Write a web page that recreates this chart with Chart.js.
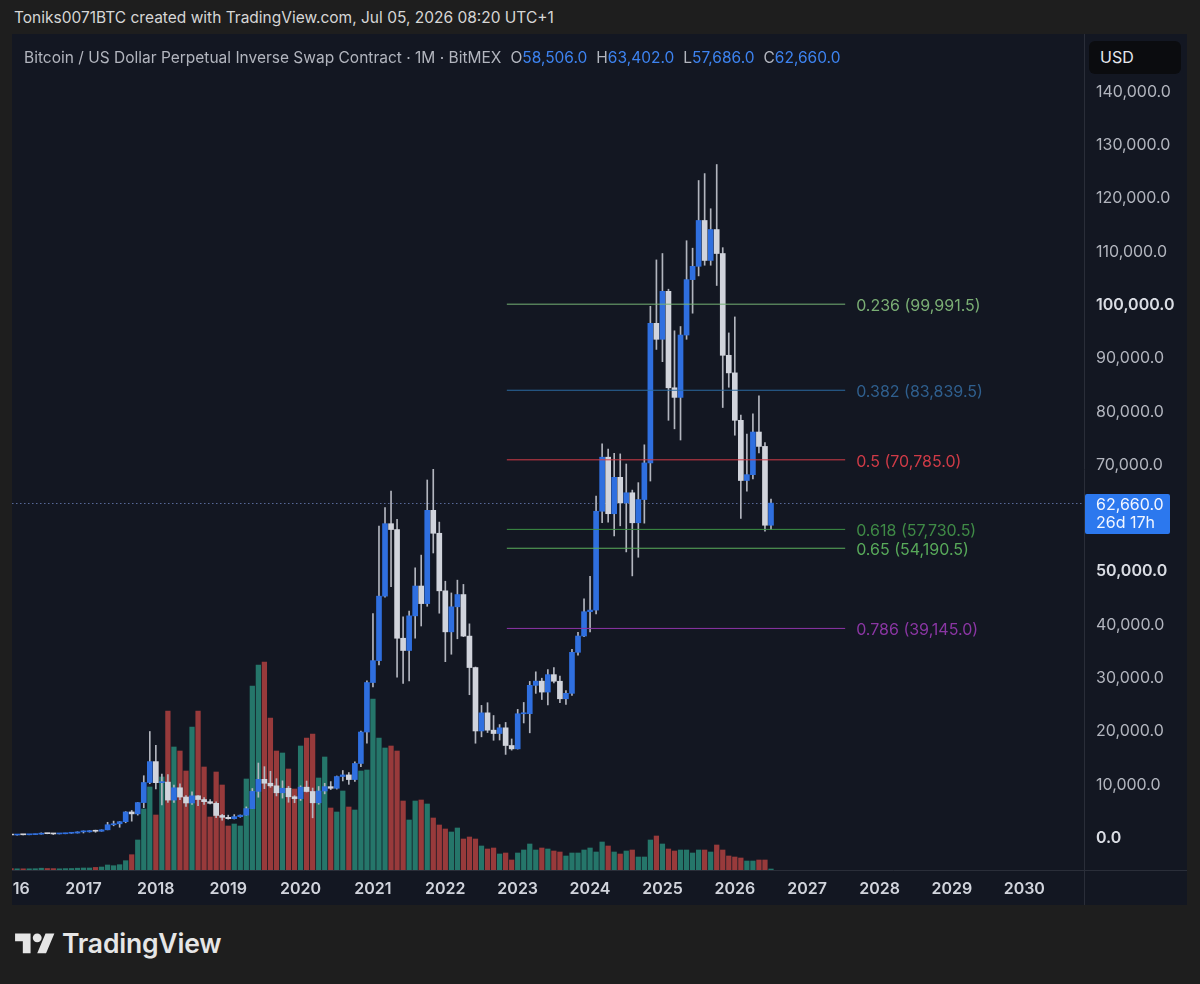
<!DOCTYPE html>
<html>
<head>
<meta charset="utf-8">
<script src="https://cdn.jsdelivr.net/npm/chart.js@4.4.1/dist/chart.umd.min.js"></script>
<style>
  body { margin: 0; background: #1e1e1e; width: 1200px; height: 984px; overflow: hidden; font-family: Inter, "Noto Sans", sans-serif; }
  #hdr { position: absolute; left: 14px; top: 8px; font-size: 15.5px; line-height: 20px; color: #d6d6d6; white-space: nowrap; }
  #panel { position: absolute; left: 12px; top: 34px; width: 1175px; height: 871px; background: #131722; }
  #c { position: absolute; left: 0; top: 0; }
  #legend { position: absolute; left: 12px; top: 14px; font-size: 15.5px; line-height: 20px; color: #b2b5be; white-space: nowrap; }
  #legend .k { margin-left: 9px; }
  #legend .v { color: #3d83f0; }
  #usd { position: absolute; left: 1077px; top: 7px; width: 92px; height: 33px; background: #0b0c0f; border-radius: 6px; color: #e6e8ee; font-size: 16px; line-height: 33px; box-sizing: border-box; padding-left: 11px; }
  #logo { position: absolute; left: 15px; top: 929px; height: 31px; }
  #logo svg { position: absolute; left: 0; top: 0; }
  #logo span { position: absolute; left: 47px; top: -1px; font-size: 26.5px; font-weight: 600; line-height: 31px; color: #e6e6e6; white-space: nowrap; letter-spacing: -0.2px; }
</style>
</head>
<body>
<div id="hdr">Toniks0071BTC created with TradingView.com, Jul 05, 2026 08:20 UTC+1</div>
<div id="panel">
  <canvas id="c" width="1175" height="871"></canvas>
  <div id="legend"></div>
  <div id="usd">USD</div>
</div>
<div id="logo">
  <svg width="40" height="31" viewBox="0 0 36 28"><path fill="#e6e6e6" d="M14 22H7V11H0V4h14v18zM28 22h-8l7.5-18h8L28 22z"/><circle fill="#e6e6e6" cx="20" cy="8" r="4"/></svg>
  <span>TradingView</span>
</div>
<script>
// Monthly candles, index 0 = Jan 2016, last = Jul 2026
const OPEN = [
  430, 369, 437, 416, 448, 531, 673, 624, 575, 609, 700, 742,
  963, 970, 1190, 1080, 1350, 2300, 2480, 2875, 4700, 4340, 6460, 10230,
  14150, 10200, 10300, 6930, 9240, 7500, 6390, 7730, 7030, 6630, 6320, 4040,
  3690, 3440, 3820, 4100, 5330, 8560, 10820, 10090, 9600, 8300, 9150, 7550,
  7200, 9350, 8540, 6420, 8630, 9450, 9140, 11350, 11650, 10780, 13800, 19700,
  28990, 33100, 45200, 58800, 57700, 37300, 35000, 41500, 47100, 43800, 61300, 57000,
  46200, 38500, 43200, 45500, 37700, 31800, 19900, 23300, 20050, 19420, 20490, 17170,
  16540, 23130, 23140, 28460, 29250, 27200, 30470, 29230, 25940, 26960, 34660, 37720,
  42280, 42580, 61130, 71280, 60670, 67500, 62700, 64600, 58970, 63330, 70200, 96400,
  93400, 102400, 84300, 82500, 94200, 104600, 107100, 115700, 108200, 114000, 109500, 90400,
  87100, 78200, 66900, 68000, 76000, 73300, 58506
];
const HIGH = [
  462, 448, 440, 468, 548, 779, 704, 626, 612, 720, 752, 980,
  1150, 1210, 1290, 1350, 2760, 2980, 2920, 4770, 4980, 6470, 11500, 19800,
  17200, 11800, 11700, 9750, 9990, 7770, 8500, 7750, 7400, 7000, 6600, 4250,
  4100, 4200, 4140, 5650, 9100, 13880, 13200, 12330, 10950, 10540, 9520, 7750,
  9600, 10500, 9190, 9480, 10070, 10400, 11450, 12480, 12100, 14100, 19860, 29300,
  41950, 58350, 61800, 64900, 59600, 41300, 42400, 50500, 52900, 67000, 69000, 59100,
  48000, 45800, 48200, 47400, 40000, 31900, 24700, 25200, 22800, 21100, 21500, 18400,
  23950, 25250, 29200, 31000, 29800, 31400, 31800, 30200, 27500, 35200, 38400, 44700,
  48900, 64000, 73800, 72800, 72000, 71900, 70000, 65100, 66500, 73600, 99600, 108300,
  109500, 102800, 95000, 95800, 111900, 110500, 123200, 124500, 117900, 126200, 110600, 94600,
  97600, 79200, 75600, 79400, 82800, 74000, 63402
];
const LOW = [
  354, 365, 393, 412, 438, 527, 604, 470, 570, 603, 685, 739,
  750, 915, 890, 1070, 1340, 2100, 1830, 2670, 2970, 4110, 5500, 10000,
  9000, 6000, 6500, 6500, 7000, 5750, 6100, 5880, 6100, 6200, 3650, 3150,
  3350, 3380, 3700, 4080, 5320, 7460, 9070, 9320, 7710, 7300, 6520, 6430,
  6860, 8450, 3600, 6150, 8100, 8900, 8990, 10520, 9880, 10420, 13200, 17600,
  28150, 32300, 45000, 47000, 30000, 28800, 29300, 37300, 39600, 43300, 53300, 42000,
  32900, 34300, 37200, 37600, 26700, 17600, 18800, 19600, 18150, 18200, 15500, 16300,
  16500, 21400, 19550, 26950, 25800, 24800, 28900, 25200, 24900, 26550, 34100, 37600,
  38500, 41880, 59000, 59100, 56500, 58400, 53500, 49000, 52500, 58900, 66800, 91500,
  89200, 78200, 76600, 74500, 93400, 98300, 105300, 107300, 107300, 103500, 80600, 84400,
  75400, 59800, 64900, 67200, 72100, 57400, 57686
];
const CLOSE = [
  369, 437, 416, 448, 531, 673, 624, 575, 609, 700, 742, 963,
  970, 1190, 1080, 1350, 2300, 2480, 2875, 4700, 4340, 6460, 10230, 14150,
  10200, 10300, 6930, 9240, 7500, 6390, 7730, 7030, 6630, 6320, 4040, 3690,
  3440, 3820, 4100, 5330, 8560, 10820, 10090, 9600, 8300, 9150, 7550, 7200,
  9350, 8540, 6420, 8630, 9450, 9140, 11350, 11650, 10780, 13800, 19700, 28990,
  33100, 45200, 58800, 57700, 37300, 35000, 41500, 47100, 43800, 61300, 57000, 46200,
  38500, 43200, 45500, 37700, 31800, 19900, 23300, 20050, 19420, 20490, 17170, 16540,
  23130, 23140, 28460, 29250, 27200, 30470, 29230, 25940, 26960, 34660, 37720, 42280,
  42580, 61130, 71280, 60670, 67500, 62700, 64600, 58970, 63330, 70200, 96400, 93400,
  102400, 84300, 82500, 94200, 104600, 107100, 115700, 108200, 114000, 109500, 90400, 87100,
  78200, 66900, 68000, 76000, 73300, 58506, 62660
];
// volume, relative units
const VOLUME = [
  1.5, 1.2, 1.2, 1.2, 1.3, 1.8, 1.5, 1.4, 1.2, 1.4, 1.5, 1.8,
  2.0, 2.0, 2.6, 3.0, 5.0, 4.3, 5.3, 9.3, 15.3, 30, 61, 83,
  55, 93, 159, 123, 119, 99, 143, 159, 103, 53, 98, 85,
  44, 46, 44, 91, 184, 205, 208, 152, 119, 117, 101, 81,
  124, 132, 136, 92, 113, 62, 58, 79, 63, 60, 99, 100,
  171, 132, 122, 124, 119, 69, 50, 69, 70, 66, 52, 45,
  41, 38, 42, 31, 33, 31, 24, 21, 22, 16, 17, 10,
  17, 20, 26, 20, 22, 21, 19, 18, 14, 17, 17, 20,
  22, 18, 28, 24, 18, 16, 19, 20, 13, 13, 30, 34,
  26, 21, 19, 20, 20, 17, 20, 20, 18, 25, 20, 14,
  13, 12, 9, 9, 10, 10, 1
];

const YEAR_LABELS = ["2016", "2017", "2018", "2019", "2020", "2021", "2022", "2023",
  "2024", "2025", "2026", "2027", "2028", "2029", "2030"];
const YEAR_MONTH_INDEX = [0, 12, 24, 36, 48, 60, 72, 84, 96, 108, 120, 132, 144, 156, 168];
const PRICE_TICKS = [0, 10000, 20000, 30000, 40000, 50000, 60000, 70000,
  80000, 90000, 100000, 110000, 120000, 130000, 140000];
const BOLD_PRICES = [0, 50000, 100000];

// Fibonacci retracement drawing
const FIB_RATIOS = [0.236, 0.382, 0.5, 0.618, 0.65, 0.786];
const FIB_PRICES = [99991.5, 83839.5, 70785.0, 57730.5, 54190.5, 39145.0];
const FIB_FROM = 82.2;
const FIB_TO = 138.3;
const COUNTDOWN = "26d 17h";

// visible range
const X_MIN = 0.15, X_MAX = 177.9;
const Y_MIN = -6193, Y_MAX = 150696;
const VOL_MAX = 836;

// styles
const FIB_LINE_COLORS = ["#76b374", "#2b6aa0", "#d23c48", "#3d9145", "#5cb05d", "#8e35a9"];
const FIB_TEXT_COLORS = ["#7aae74", "#2f5f8e", "#cf3b47", "#3f8a46", "#58a95a", "#8a36a3"];
const UP = "#2f6fdf", DOWN = "#d1d4dc", WICK = "#b2b5be";
const VOL_UP = "#25766a", VOL_DOWN = "#983a3b";

function fmt(v) {
  return v.toLocaleString("en-US", { minimumFractionDigits: 1, maximumFractionDigits: 1 });
}
function isBold(c) {
  return !!(c && c.tick && BOLD_PRICES.includes(c.tick.value));
}

const last = CLOSE.length - 1;
const isUp = CLOSE.map((c, i) => c >= OPEN[i]);

// legend above the chart
const legend = document.getElementById("legend");
legend.innerHTML = "Bitcoin / US Dollar Perpetual Inverse Swap Contract · 1M · BitMEX" +
  [["O", OPEN[last]], ["H", HIGH[last]], ["L", LOW[last]], ["C", CLOSE[last]]]
    .map(p => `<span class="k">${p[0]}</span><span class="v">${fmt(p[1])}</span>`).join("");

const overlay = {
  id: "overlay",
  beforeDatasetsDraw(chart) {
    const { ctx, chartArea, scales } = chart;
    const py = Math.round(scales.y.getPixelForValue(CLOSE[last])) + 0.5;
    ctx.save();
    ctx.strokeStyle = "rgba(92,110,160,0.95)";
    ctx.lineWidth = 1;
    ctx.setLineDash([1.5, 2.5]);
    ctx.beginPath();
    ctx.moveTo(chartArea.left, py);
    ctx.lineTo(chartArea.right, py);
    ctx.stroke();
    ctx.restore();
  },
  afterDatasetsDraw(chart) {
    const { ctx, scales } = chart;
    const tx = scales.x.getPixelForValue(FIB_TO) + 11;
    ctx.save();
    ctx.font = "16px Inter";
    ctx.textAlign = "left";
    ctx.textBaseline = "middle";
    FIB_RATIOS.forEach((r, i) => {
      ctx.fillStyle = FIB_TEXT_COLORS[i];
      ctx.fillText(`${r} (${fmt(FIB_PRICES[i])})`, tx, scales.y.getPixelForValue(FIB_PRICES[i]) + 2);
    });
    ctx.restore();
  },
  afterDraw(chart) {
    const { ctx, chartArea, scales } = chart;
    ctx.save();
    // pane separators
    ctx.strokeStyle = "#2a2e39";
    ctx.lineWidth = 1;
    ctx.beginPath();
    ctx.moveTo(chartArea.right + 0.5, 0);
    ctx.lineTo(chartArea.right + 0.5, chart.height);
    ctx.moveTo(0, chartArea.bottom + 0.5);
    ctx.lineTo(chart.width, chartArea.bottom + 0.5);
    ctx.stroke();
    // last price tag
    const py = Math.round(scales.y.getPixelForValue(CLOSE[last]));
    ctx.fillStyle = "#2c78ee";
    ctx.beginPath();
    ctx.roundRect(chartArea.right + 1, py - 9, 85, 40, 2);
    ctx.fill();
    ctx.fillStyle = "#f2f6ff";
    ctx.font = "16px Inter";
    ctx.textAlign = "left";
    ctx.textBaseline = "middle";
    ctx.fillText(fmt(CLOSE[last]), chartArea.right + 12, py + 2);
    ctx.fillText(COUNTDOWN, chartArea.right + 12, py + 20);
    ctx.restore();
  }
};

const fibSets = FIB_PRICES.map((p, i) => ({
  type: "line",
  data: [{ x: FIB_FROM, y: p }, { x: FIB_TO, y: p }],
  yAxisID: "y",
  borderColor: FIB_LINE_COLORS[i],
  borderWidth: 1,
  pointRadius: 0,
  order: 0
}));

new Chart(document.getElementById("c"), {
  type: "bar",
  data: {
    datasets: [
      {
        label: "Volume",
        data: VOLUME.map((v, i) => ({ x: i, y: v })),
        yAxisID: "yv",
        backgroundColor: isUp.map(u => (u ? VOL_UP : VOL_DOWN)),
        barThickness: 4.6,
        grouped: false,
        order: 4
      },
      {
        label: "Wicks",
        data: HIGH.map((h, i) => ({ x: i, y: [LOW[i], h] })),
        yAxisID: "y",
        backgroundColor: WICK,
        barThickness: 1,
        grouped: false,
        order: 3
      },
      {
        label: "Bodies",
        data: OPEN.map((o, i) => ({ x: i, y: [o, CLOSE[i]] })),
        yAxisID: "y",
        backgroundColor: isUp.map(u => (u ? UP : DOWN)),
        barThickness: 5,
        minBarLength: 1,
        grouped: false,
        order: 2
      },
      ...fibSets
    ]
  },
  options: {
    responsive: false,
    animation: false,
    layout: { padding: 0 },
    plugins: { legend: { display: false }, tooltip: { enabled: false } },
    scales: {
      x: {
        type: "linear",
        min: X_MIN,
        max: X_MAX,
        offset: false,
        grid: { display: false, drawTicks: false },
        border: { display: false },
        afterBuildTicks: s => { s.ticks = YEAR_MONTH_INDEX.map(v => ({ value: v })); },
        ticks: {
          autoSkip: false,
          maxRotation: 0,
          minRotation: 0,
          padding: 10,
          color: "#d1d4dc",
          font: { family: "Inter", size: 16, weight: "600" },
          callback: (v, i) => YEAR_LABELS[i]
        },
        afterFit: s => { s.height = 35; s.paddingLeft = 0; s.paddingRight = 0; }
      },
      y: {
        position: "right",
        min: Y_MIN,
        max: Y_MAX,
        grid: { display: false, drawTicks: false },
        border: { display: false },
        afterBuildTicks: s => { s.ticks = PRICE_TICKS.map(v => ({ value: v })); },
        ticks: {
          autoSkip: false,
          padding: 12,
          labelOffset: 1,
          color: c => (isBold(c) ? "#dadde4" : "#b2b5be"),
          font: c => ({ family: "Inter", size: 16, weight: isBold(c) ? "600" : "400" }),
          callback: v => fmt(v)
        },
        afterFit: s => { s.width = 103; s.paddingTop = 0; s.paddingBottom = 0; }
      },
      yv: { display: false, min: 0, max: VOL_MAX }
    }
  },
  plugins: [overlay]
});
</script>
</body>
</html>
